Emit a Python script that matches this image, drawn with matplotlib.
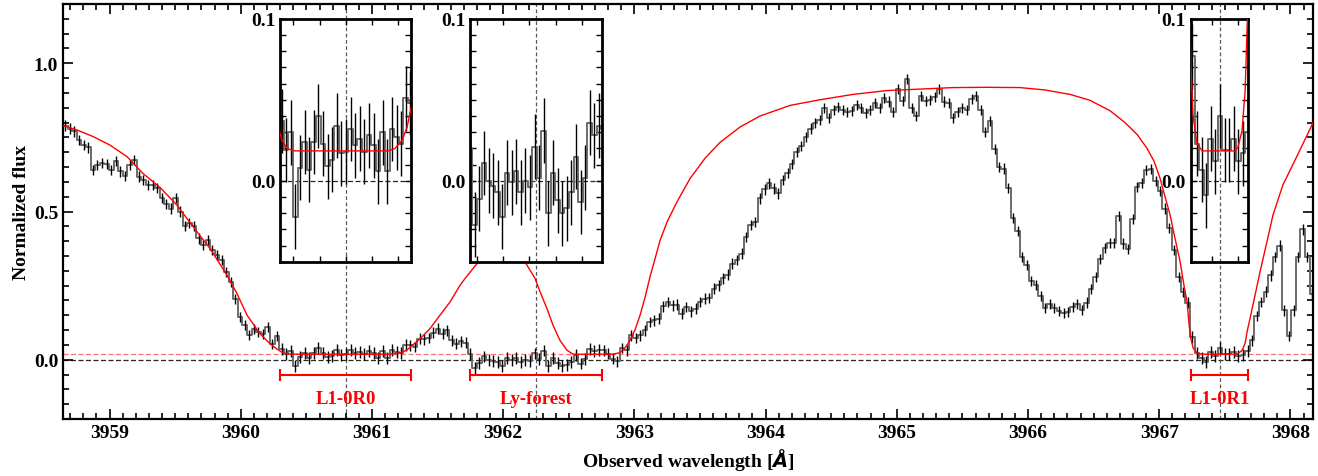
import numpy as np
import matplotlib
matplotlib.use("Agg")
import matplotlib.pyplot as plt
from matplotlib.ticker import MultipleLocator, FixedLocator, NullFormatter, FormatStrFormatter

plt.rcParams['font.family'] = ['Liberation Serif', 'DejaVu Serif']
plt.rcParams['font.weight'] = 'bold'
plt.rcParams['mathtext.fontset'] = 'dejavusans'

# ---------------- spectrum (normalized flux on a uniform pixel grid) ----------------
wave_start = 3958.6625   # centre of the first pixel [A]
wave_step = 0.03506      # pixel size [A]

flux = [
    # blue wing of L1-0R0
    0.79, 0.78, 0.77, 0.74, 0.724, 0.716, 0.64, 0.656, 0.664, 0.66, 0.64, 0.67,
    0.635, 0.62, 0.656, 0.673, 0.618, 0.606, 0.588, 0.59, 0.58, 0.544, 0.524, 0.51,
    0.544, 0.50, 0.45, 0.46, 0.45, 0.409, 0.386, 0.405, 0.37, 0.352, 0.335, 0.297,
    0.263, 0.206, 0.145, 0.116, 0.082, 0.105, 0.094, 0.088, 0.11, 0.054, 0.08,
    # L1-0R0 trough
    0.037, 0.019, 0.030, -0.022, 0.008, 0.024, 0.007, 0.024, 0.040, 0.023, 0.009, 0.013,
    0.034, 0.017, 0.018, 0.032, 0.022, 0.026, 0.018, 0.028, 0.022, 0.006, 0.030, 0.006,
    0.032, 0.027, 0.023, 0.051, 0.048,
    # small bump
    0.043, 0.071, 0.069, 0.073, 0.091, 0.105, 0.088, 0.099, 0.065, 0.054, 0.062, 0.057,
    # Ly-forest absorber
    0.020, -0.027, -0.011, 0.011, 0.000, -0.003, -0.007, -0.022, 0.005, -0.001, 0.006,
    -0.007, 0.000, -0.004, 0.021, 0.002, 0.031, -0.020, 0.005, -0.012, -0.020, -0.017,
    -0.007, 0.015, -0.013, 0.002, 0.036, 0.028, 0.034,
    # recovery
    0.032, 0.020, 0.003, -0.006, 0.039, 0.032, 0.082, 0.073, 0.082, 0.099, 0.127, 0.133,
    0.139, 0.180, 0.195, 0.184, 0.186, 0.155, 0.178, 0.163, 0.172, 0.195, 0.206, 0.208,
    0.240, 0.251, 0.274, 0.287, 0.324, 0.336, 0.358, 0.414, 0.454, 0.465, 0.544, 0.575,
    0.595, 0.578, 0.561, 0.606,
    0.63, 0.66, 0.70, 0.72, 0.75, 0.78, 0.80,
    # plateau
    0.809, 0.848, 0.814, 0.842, 0.852, 0.842, 0.837, 0.839, 0.859, 0.848, 0.831, 0.842,
    0.867, 0.850, 0.882, 0.871, 0.837, 0.913, 0.873, 0.947, 0.848, 0.823, 0.891, 0.873,
    0.876, 0.887, 0.913, 0.871, 0.865, 0.816, 0.837, 0.850, 0.842, 0.881, 0.891, 0.842,
    0.769, 0.805, 0.711, 0.651, 0.645, 0.580, 0.479, 0.434,
    # broad dip
    0.347, 0.319, 0.265, 0.251, 0.215, 0.175, 0.188, 0.175, 0.163, 0.157, 0.161, 0.178,
    0.189, 0.168, 0.193, 0.240, 0.279, 0.339, 0.377, 0.394, 0.395, 0.485, 0.392, 0.373,
    0.474, 0.583, 0.595, 0.640, 0.643, 0.602, 0.569, 0.510, 0.443, 0.369, 0.279, 0.229,
    0.193,
    # L1-0R1 trough and beyond
    0.077, 0.023, 0.007, -0.009, 0.026, 0.012, 0.040, 0.019, 0.019, 0.026, 0.012, 0.017,
    0.030, 0.065, 0.147, 0.195, 0.229, 0.285, 0.347, 0.385, 0.167, 0.08, 0.167, 0.347,
    0.44, 0.347, 0.223,
]

flux_err = ([0.017] * 47 + [0.02] * 29 + [0.018] * 12 + [0.02] * 29 + [0.018] * 40
            + [0.017] * 7 + [0.017] * 44 + [0.017] * 37 + [0.02] * 13 + [0.018] * 14)

# ---------------- absorption model (continuum x H2 lines) ----------------
model_wave = [
    3958.645, 3958.752, 3958.873, 3959.003, 3959.133, 3959.255, 3959.385, 3959.514,
    3959.636, 3959.766, 3959.895, 3959.971, 3960.048, 3960.146, 3960.223, 3960.269,
    3960.314, 3960.352, 3960.414, 3961.122, 3961.175, 3961.229, 3961.267, 3961.290,
    3961.367, 3961.442, 3961.518, 3961.595, 3961.671, 3961.709, 3961.800, 3961.877,
    3961.953, 3962.030, 3962.105, 3962.174, 3962.243, 3962.281, 3962.334, 3962.380,
    3962.433, 3962.486, 3962.533, 3962.837, 3962.891, 3962.929, 3962.966, 3963.004,
    3963.043, 3963.081, 3963.119, 3963.157, 3963.196, 3963.249, 3963.325, 3963.424,
    3963.539, 3963.652, 3963.805, 3963.957, 3964.187, 3964.415, 3964.666, 3964.925,
    3965.177, 3965.428, 3965.688, 3965.939, 3966.129, 3966.321, 3966.473, 3966.625,
    3966.739, 3966.831, 3966.907, 3966.960, 3967.007, 3967.044, 3967.082, 3967.120,
    3967.159, 3967.189, 3967.212, 3967.227, 3967.242, 3967.258, 3967.288, 3967.327,
    3967.578, 3967.601, 3967.631, 3967.655, 3967.670, 3967.692, 3967.730, 3967.768,
    3967.821, 3967.867, 3967.942, 3968.048, 3968.173,
]
model_flux = [
    0.790, 0.775, 0.753, 0.724, 0.685, 0.628, 0.581, 0.521,
    0.449, 0.375, 0.285, 0.223, 0.150, 0.088, 0.054, 0.038,
    0.025, 0.020, 0.0185, 0.0185, 0.020, 0.025, 0.033, 0.042,
    0.071, 0.105, 0.150, 0.195, 0.251, 0.274, 0.324, 0.370,
    0.400, 0.410, 0.380, 0.324, 0.274, 0.229, 0.172, 0.116,
    0.065, 0.032, 0.0185, 0.0185, 0.024, 0.040, 0.065, 0.100,
    0.150, 0.210, 0.280, 0.340, 0.403, 0.465, 0.533, 0.611,
    0.680, 0.733, 0.785, 0.822, 0.858, 0.877, 0.895, 0.908,
    0.913, 0.918, 0.919, 0.918, 0.910, 0.895, 0.875, 0.840,
    0.800, 0.760, 0.713, 0.670, 0.611, 0.550, 0.490, 0.410,
    0.331, 0.250, 0.196, 0.120, 0.070, 0.040, 0.023, 0.0185,
    0.0185, 0.021, 0.031, 0.056, 0.095, 0.139, 0.217, 0.296,
    0.398, 0.488, 0.589, 0.685, 0.800,
]

zero_offset = 0.0185

# ---------------- fitted regions ----------------
region_labels = ['L1-0R0', 'Ly-forest', 'L1-0R1']
region_centres = [3960.80, 3962.25, 3967.46]
region_halfwidths = [0.50, 0.50, 0.22]
region_show_model = [True, False, True]

wave = wave_start + wave_step * np.arange(len(flux))
flux = np.asarray(flux)
flux_err = np.asarray(flux_err)

W, H = 1318, 477
fig = plt.figure(figsize=(W / 100, H / 100), dpi=100)
ax = fig.add_axes([63 / W, 57 / H, 1250 / W, 415 / H])

STEP_COLOR = '0.42'
FS = 14


def draw_spectrum(a, with_model=True, with_offset=True):
    a.plot(wave, flux, drawstyle='steps-mid', color=STEP_COLOR, lw=1.4, zorder=2)
    a.errorbar(wave, flux, yerr=flux_err, fmt='none', ecolor='k', elinewidth=1.0,
               capsize=0, zorder=3)
    if with_model:
        a.plot(model_wave, model_flux, color='red', lw=1.0, zorder=4)
    a.axhline(0.0, color='0.15', lw=0.9, ls=(0, (4, 2)), zorder=1)
    if with_offset:
        a.axhline(zero_offset, color='red', alpha=0.55, lw=0.9, ls=(0, (4, 2)), zorder=1)
    for c in region_centres:
        a.axvline(c, color='0.35', lw=0.9, ls=(0, (3, 2)), zorder=1)


draw_spectrum(ax)
ax.set_xlim(3958.645, 3968.172)
ax.set_ylim(-0.2, 1.2)
ax.xaxis.set_major_locator(MultipleLocator(1))
ax.xaxis.set_minor_locator(MultipleLocator(0.1))
ax.xaxis.set_major_formatter(FormatStrFormatter('%d'))
ax.yaxis.set_major_locator(MultipleLocator(0.5))
ax.yaxis.set_minor_locator(MultipleLocator(0.05))
ax.yaxis.set_major_formatter(FormatStrFormatter('%.1f'))
ax.tick_params(which='both', direction='in', top=True, right=True, labelsize=FS, width=1.2)
ax.tick_params(which='major', length=7)
ax.tick_params(which='minor', length=4)
for s in ax.spines.values():
    s.set_linewidth(1.6)
ax.set_xlabel(r'Observed wavelength [$\AA$]', fontsize=FS, fontweight='bold', labelpad=4)
ax.set_ylabel('Normalized flux', fontsize=FS, fontweight='bold', labelpad=3)

# region markers with labels
for lab, c, hw in zip(region_labels, region_centres, region_halfwidths):
    ax.errorbar(c, -0.05, xerr=hw, fmt='none', ecolor='red', elinewidth=1.5,
                capsize=4.5, capthick=1.5, zorder=5)
    ax.text(c, -0.13, lab, color='red', fontsize=13.5, fontweight='bold',
            ha='center', va='center', zorder=5)

# zoomed insets on the fitted regions, placed right above each region
to_fig = ax.transData + fig.transFigure.inverted()
for c, hw, show_model in zip(region_centres, region_halfwidths, region_show_model):
    (fx0, fy0) = to_fig.transform((c - hw, 0.33))
    (fx1, fy1) = to_fig.transform((c + hw, 1.15))
    ia = fig.add_axes([fx0, fy0, fx1 - fx0, fy1 - fy0])
    ia.set_facecolor('white')
    ia.set_zorder(10)
    draw_spectrum(ia, with_model=show_model, with_offset=False)
    ia.set_xlim(c - hw, c + hw)
    ia.set_ylim(-0.05, 0.1)
    ia.yaxis.set_major_locator(FixedLocator([0.0, 0.1]))
    ia.yaxis.set_minor_locator(MultipleLocator(0.01))
    ia.yaxis.set_major_formatter(FormatStrFormatter('%.1f'))
    ia.xaxis.set_major_locator(MultipleLocator(0.2))
    ia.xaxis.set_major_formatter(NullFormatter())
    ia.tick_params(which='both', direction='in', top=True, right=True, labelsize=FS,
                   length=4, width=1.0)
    for s in ia.spines.values():
        s.set_linewidth(2.0)

fig.savefig('out.png', dpi=100)
